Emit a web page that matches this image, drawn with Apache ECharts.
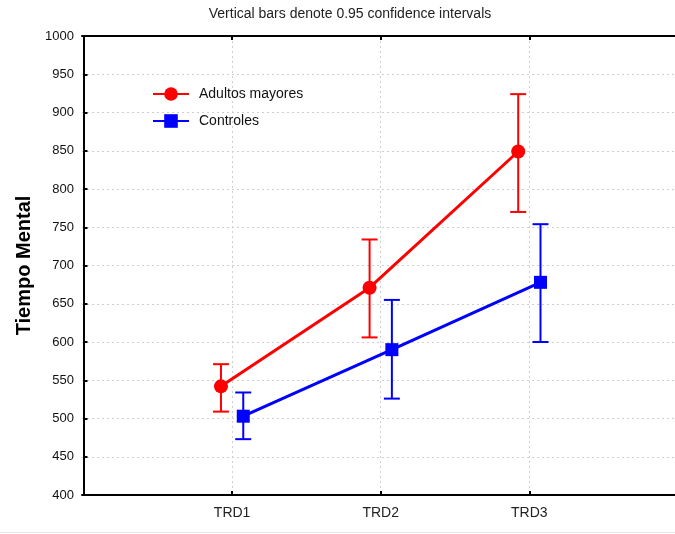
<!DOCTYPE html>
<html>
<head>
<meta charset="utf-8">
<script src="https://cdn.jsdelivr.net/npm/echarts@6/dist/echarts.min.js"></script>
<style>
html,body{margin:0;padding:0;background:#fff;}
#c{width:675px;height:534px;}
</style>
</head>
<body>
<div id="c"></div>
<script>
var categories = ['TRD1', 'TRD2', 'TRD3'];
var seriesNames = ['Adultos mayores', 'Controles'];
var adultosMean = [542, 671, 849];
var adultosLow  = [509, 606, 770];
var adultosHigh = [571, 734, 924];
var controlesMean = [503, 590, 678];
var controlesLow  = [473, 526, 600];
var controlesHigh = [534, 655, 754];
var yTicks = [400, 450, 500, 550, 600, 650, 700, 750, 800, 850, 900, 950, 1000];

var OFFSET = 0.075;
var FONT = '"Liberation Sans", Arial, sans-serif';
var catPositions = categories.map(function (c, i) { return i + 1; });

function pts(means, off) {
  return means.map(function (v, i) { return [i + 1 + off, v]; });
}
function bars(lows, highs, off) {
  return lows.map(function (v, i) { return [i + 1 + off, v, highs[i]]; });
}
function errRender(color) {
  return function (params, api) {
    var x = api.value(0);
    var lo = api.coord([x, api.value(1)]);
    var hi = api.coord([x, api.value(2)]);
    var hw = 8;
    var style = { stroke: color, lineWidth: 2, fill: null };
    return {
      type: 'group',
      children: [
        { type: 'line', shape: { x1: lo[0], y1: lo[1], x2: hi[0], y2: hi[1] }, style: style },
        { type: 'line', shape: { x1: lo[0] - hw, y1: lo[1], x2: lo[0] + hw, y2: lo[1] }, style: style },
        { type: 'line', shape: { x1: hi[0] - hw, y1: hi[1], x2: hi[0] + hw, y2: hi[1] }, style: style }
      ]
    };
  };
}

var xAxisBase = {
  type: 'value', min: -0.01, max: 3.98,
  axisLine: { show: true, lineStyle: { color: '#000', width: 2 } },
  axisTick: { show: true, inside: true, length: 4, customValues: catPositions, lineStyle: { color: '#000', width: 2 } },
  splitLine: { show: true, showMinLine: true, showMaxLine: true, lineStyle: { color: '#cfcfcf', type: [2, 3], width: 1 } }
};

var chart = echarts.init(document.getElementById('c'), null, { renderer: 'canvas' });
chart.setOption({
  animation: false,
  backgroundColor: '#fff',
  title: {
    text: 'Vertical bars denote 0.95 confidence intervals',
    left: 345, top: 2, textAlign: 'center',
    textStyle: { fontFamily: FONT, fontSize: 14, fontWeight: 'normal', color: '#222' }
  },
  legend: {
    orient: 'vertical', left: 152, top: 87, padding: 0,
    itemWidth: 36, itemHeight: 17, itemGap: 13,
    data: seriesNames,
    textStyle: { fontFamily: FONT, fontSize: 14, color: '#111', padding: [0, 0, 0, 5] }
  },
  grid: { left: 82, right: 0, top: 36, bottom: 39 },
  xAxis: [
    Object.assign({}, xAxisBase, {
      position: 'bottom',
      axisLabel: {
        margin: 11, fontFamily: FONT, fontSize: 14, color: '#222',
        customValues: catPositions,
        formatter: function (v) { var c = categories[Math.round(v) - 1]; return c && Math.abs(v - Math.round(v)) < 1e-6 ? c : ''; }
      }
    }),
    Object.assign({}, xAxisBase, {
      position: 'top',
      axisLabel: { show: false },
      splitLine: { show: false }
    })
  ],
  yAxis: {
    type: 'value', min: yTicks[0], max: yTicks[yTicks.length - 1], interval: yTicks[1] - yTicks[0],
    name: 'Tiempo Mental', nameLocation: 'middle', nameGap: 48,
    nameTextStyle: { fontFamily: FONT, fontSize: 20, fontWeight: 'bold', color: '#000' },
    axisLine: { show: true, lineStyle: { color: '#000', width: 2 } },
    axisTick: { show: true, inside: true, length: 4, lineStyle: { color: '#000', width: 2 } },
    axisLabel: { margin: 8, fontFamily: FONT, fontSize: 13, color: '#111',
      formatter: function (v) { return String(v); } },
    splitLine: { show: true, lineStyle: { color: '#cfcfcf', type: [2, 3], width: 1 } }
  },
  series: [
    {
      type: 'custom', name: seriesNames[0] + ' CI', renderItem: errRender('#ff0000'),
      data: bars(adultosLow, adultosHigh, -OFFSET), encode: { x: 0, y: [1, 2] }, z: 2, silent: true
    },
    {
      type: 'custom', name: seriesNames[1] + ' CI', renderItem: errRender('#0000ff'),
      data: bars(controlesLow, controlesHigh, OFFSET), encode: { x: 0, y: [1, 2] }, z: 2, silent: true
    },
    {
      type: 'line', name: seriesNames[0], data: pts(adultosMean, -OFFSET),
      symbol: 'circle', symbolSize: 14,
      itemStyle: { color: '#ff0000' }, lineStyle: { color: '#ff0000', width: 3 }, z: 3
    },
    {
      type: 'line', name: seriesNames[1], data: pts(controlesMean, OFFSET),
      symbol: 'rect', symbolSize: 13,
      itemStyle: { color: '#0000ff' }, lineStyle: { color: '#0000ff', width: 3 }, z: 3
    }
  ],
  graphic: [
    { type: 'line', shape: { x1: 0, y1: 532.5, x2: 675, y2: 532.5 }, style: { stroke: '#e6e6e6', lineWidth: 1 } }
  ]
});
</script>
</body>
</html>
